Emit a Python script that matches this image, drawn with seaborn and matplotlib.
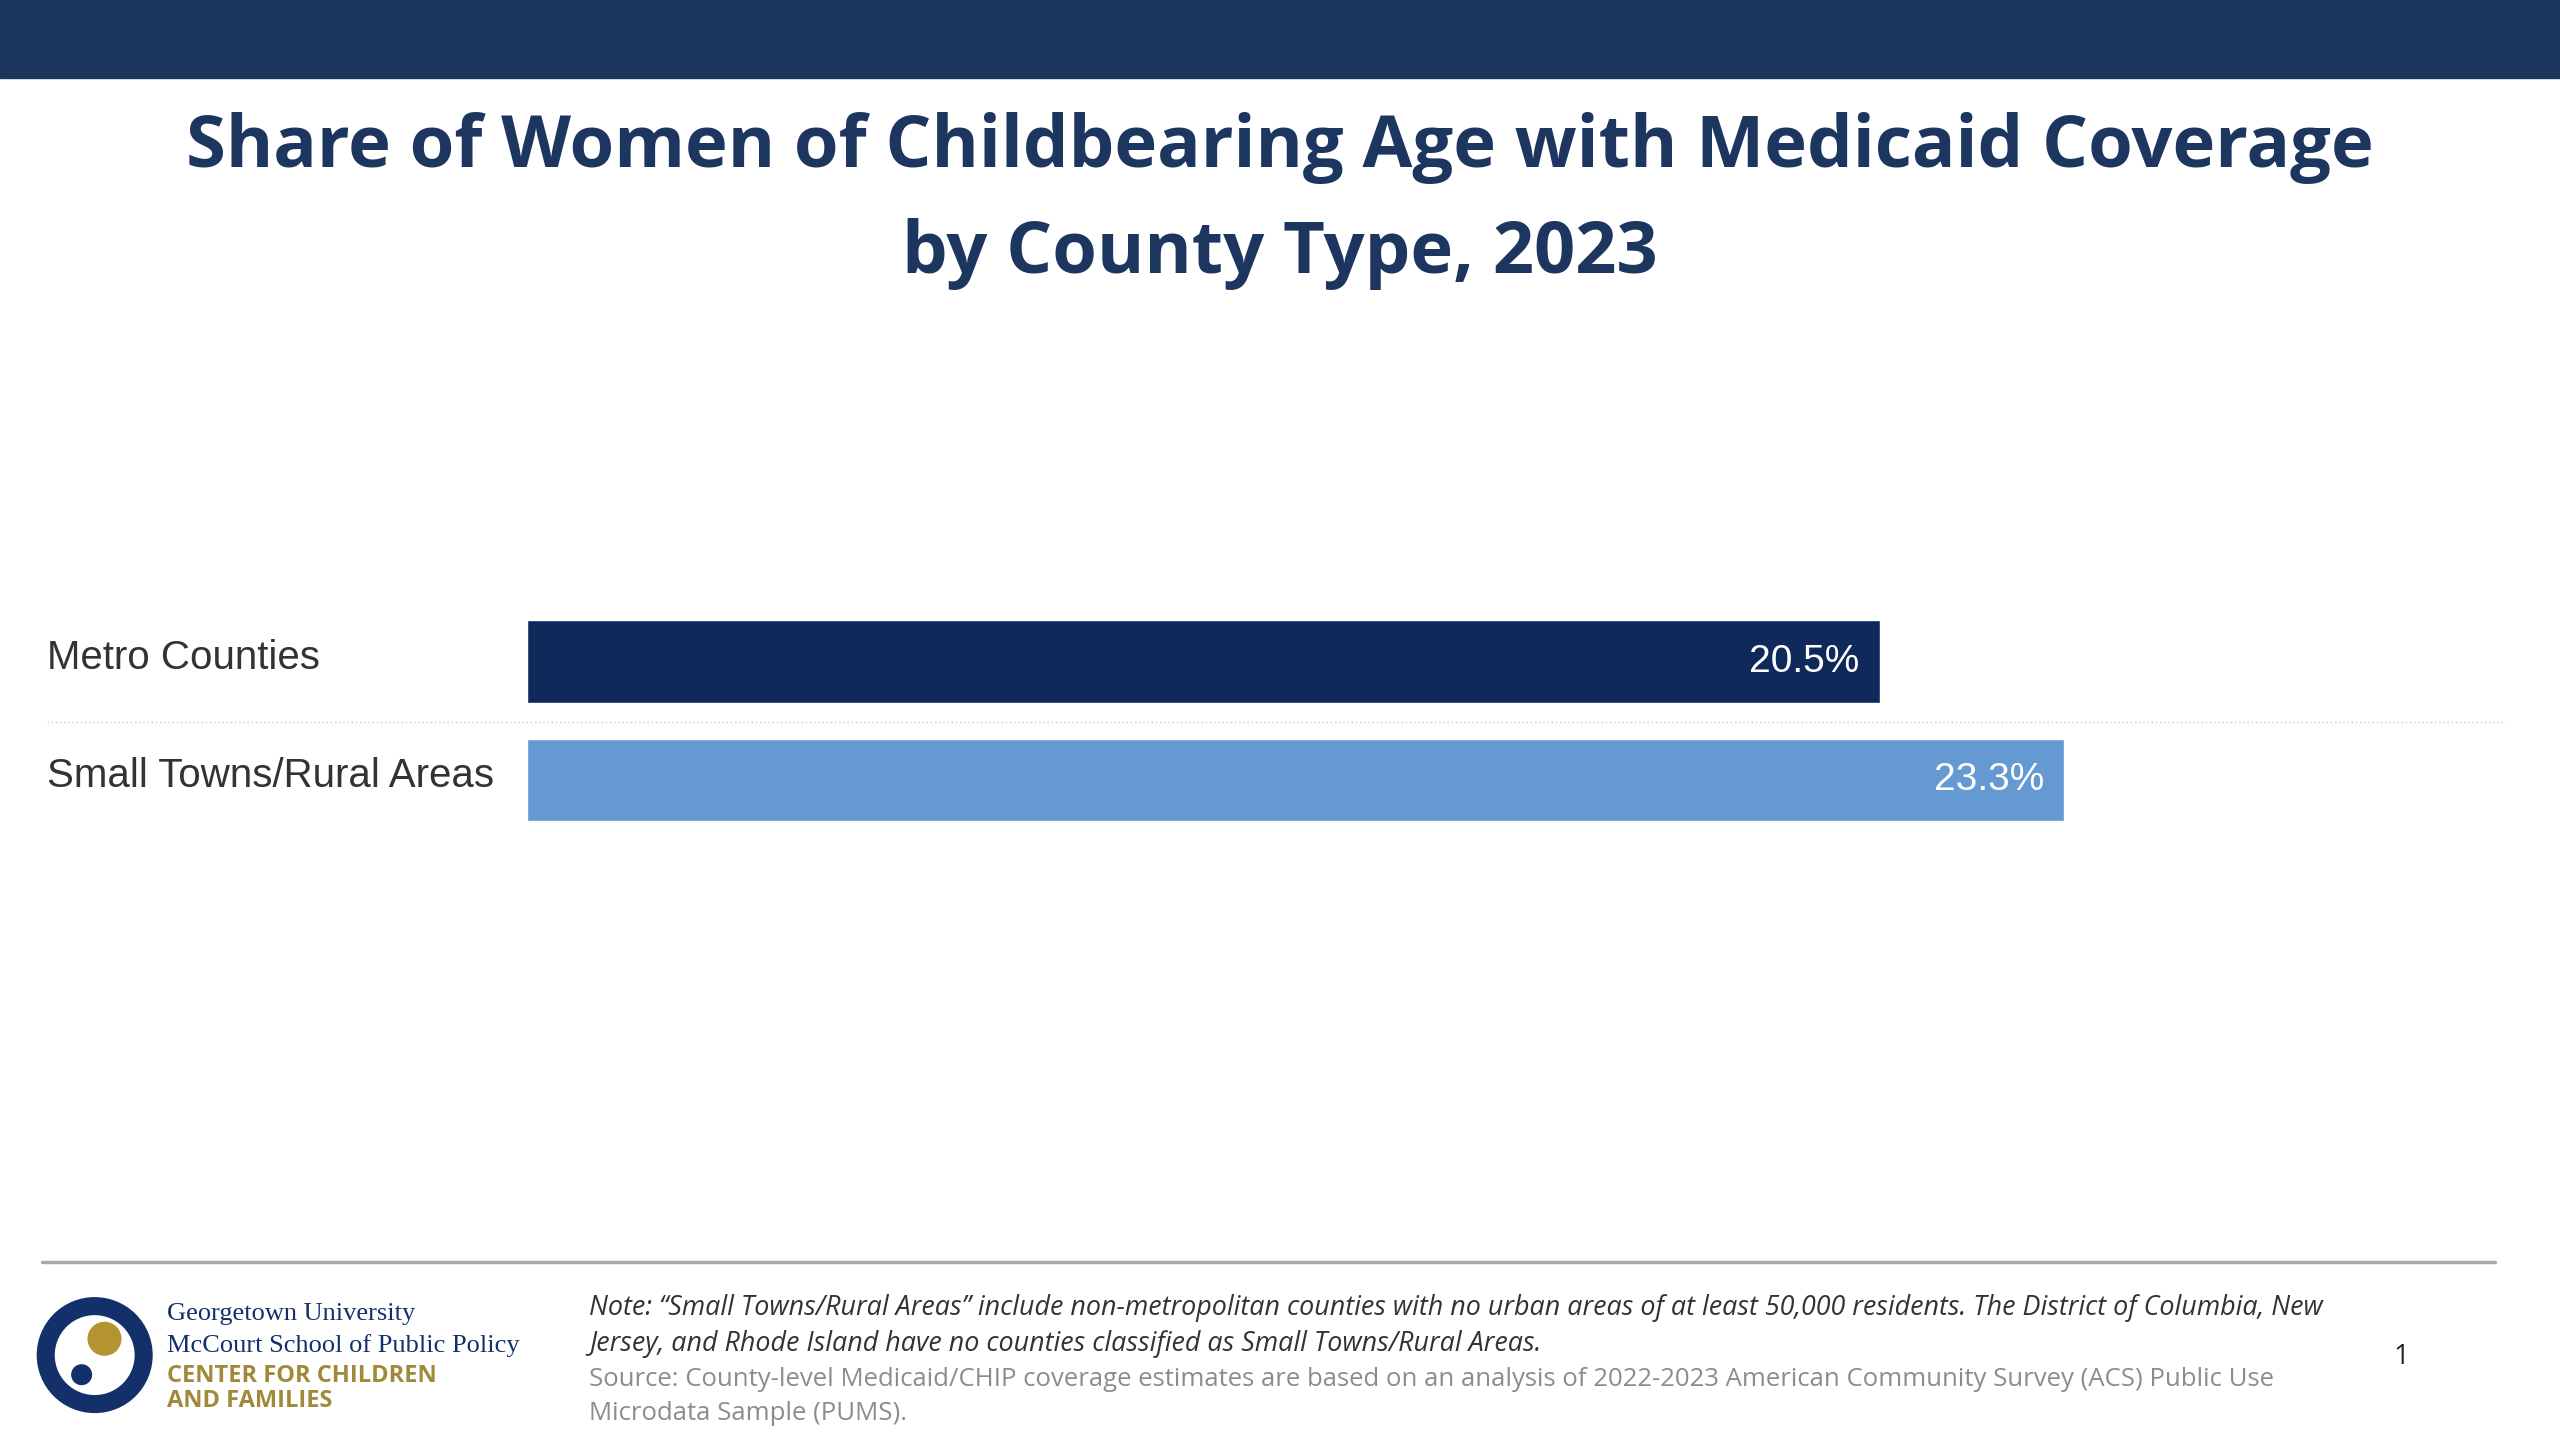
import matplotlib
matplotlib.use('Agg')
import matplotlib.pyplot as plt
from matplotlib.patches import Rectangle, Ellipse
import seaborn as sns
import pandas as pd

categories = ["Metro Counties", "Small Towns/Rural Areas"]
shares = [20.5, 23.3]
bar_colors = ["#0f2a5a", "#6599d1"]

title = "Share of Women of Childbearing Age with Medicaid Coverage\nby County Type, 2023"
note_lines = [
    "Note: \u201cSmall Towns/Rural Areas\u201d include non-metropolitan counties with no urban areas of at least 50,000 residents. The District of Columbia, New",
    "Jersey, and Rhode Island have no counties classified as Small Towns/Rural Areas.",
]
source_lines = [
    "Source: County-level Medicaid/CHIP coverage estimates are based on an analysis of 2022-2023 American Community Survey (ACS) Public Use",
    "Microdata Sample (PUMS).",
]

df = pd.DataFrame({"category": categories, "share": shares})

sns.set_theme(style="white")
plt.rcParams['font.family'] = ['Liberation Sans', 'DejaVu Sans']

W, H = 1568, 882  # layout in reference display pixels
fig = plt.figure(figsize=(25.6, 14.4), dpi=100)

def fx(x): return x / W
def fy(y): return 1 - y / H

os_font = ["Open Sans", "DejaVu Sans"]

# top banner
fig.patches.append(Rectangle((0, fy(48)), 1, 48 / H, transform=fig.transFigure,
                             color="#1b365d", zorder=0))
fig.text(0.5, fy(123), title, ha="center", va="center", fontsize=52, fontweight="bold",
         color="#1c3660", family=os_font, linespacing=1.62)

ax = fig.add_axes([fx(323), fy(514), fx(1535 - 323), 145 / H])
sns.barplot(data=df, y="category", x="share", hue="category", palette=bar_colors,
            orient="h", width=0.7, legend=False, ax=ax, saturation=1)
ax.set_xlim(0, 30)
ax.set_ylim(1.5, -0.5)
ax.set_axis_off()
for i, v in enumerate(shares):
    ax.text(v - 0.3, i, f"{v}%", ha="right", va="center", color="white", fontsize=28)
    fig.text(fx(29), fy(403 + 72.5 * i), categories[i], ha="left", va="center",
             fontsize=29, color="#333333")

# dotted separator between bars
fig.add_artist(plt.Line2D([fx(29), fx(1535)], [fy(442), fy(442)], color="#cccccc",
                          lw=1, linestyle=(0, (1, 2))))
# footer rule
fig.add_artist(plt.Line2D([fx(26), fx(1528)], [fy(773), fy(773)], color="#aaaaaa", lw=2.5))

# logo shapes
fig.patches.append(Ellipse((fx(58), fy(830)), 60 / W, 60 / H, transform=fig.transFigure,
                           fill=False, ec="#13306a", lw=13))
fig.patches.append(Ellipse((fx(64), fy(820)), 20 / W, 20 / H,
                           transform=fig.transFigure, color="#b39430"))
fig.patches.append(Ellipse((fx(50), fy(842)), 12 / W, 12 / H,
                           transform=fig.transFigure, color="#13306a"))
serif = ["Liberation Serif", "DejaVu Serif"]
fig.text(fx(102), fy(805), "Georgetown University", fontsize=19, family=serif,
         color="#13306a", va="center")
fig.text(fx(102), fy(824), "McCourt School of Public Policy", fontsize=19, family=serif,
         color="#13306a", va="center")
fig.text(fx(102), fy(843), "CENTER FOR CHILDREN", fontsize=17, fontweight="bold",
         color="#a08a3a", va="center", family=os_font)
fig.text(fx(102), fy(858), "AND FAMILIES", fontsize=17, fontweight="bold",
         color="#a08a3a", va="center", family=os_font)

for k, line in enumerate(note_lines):
    fig.text(fx(361), fy(801 + 22 * k), line, fontsize=19.4, style="italic",
             color="#333333", va="center", family=os_font)
for k, line in enumerate(source_lines):
    fig.text(fx(361), fy(845 + 21 * k), line, fontsize=18.5, color="#8c8c8c",
             va="center", family=os_font)
fig.text(fx(1471), fy(831), "1", fontsize=20, color="#222222", ha="center", va="center",
         family=os_font)

fig.savefig("out.png", dpi=100)
